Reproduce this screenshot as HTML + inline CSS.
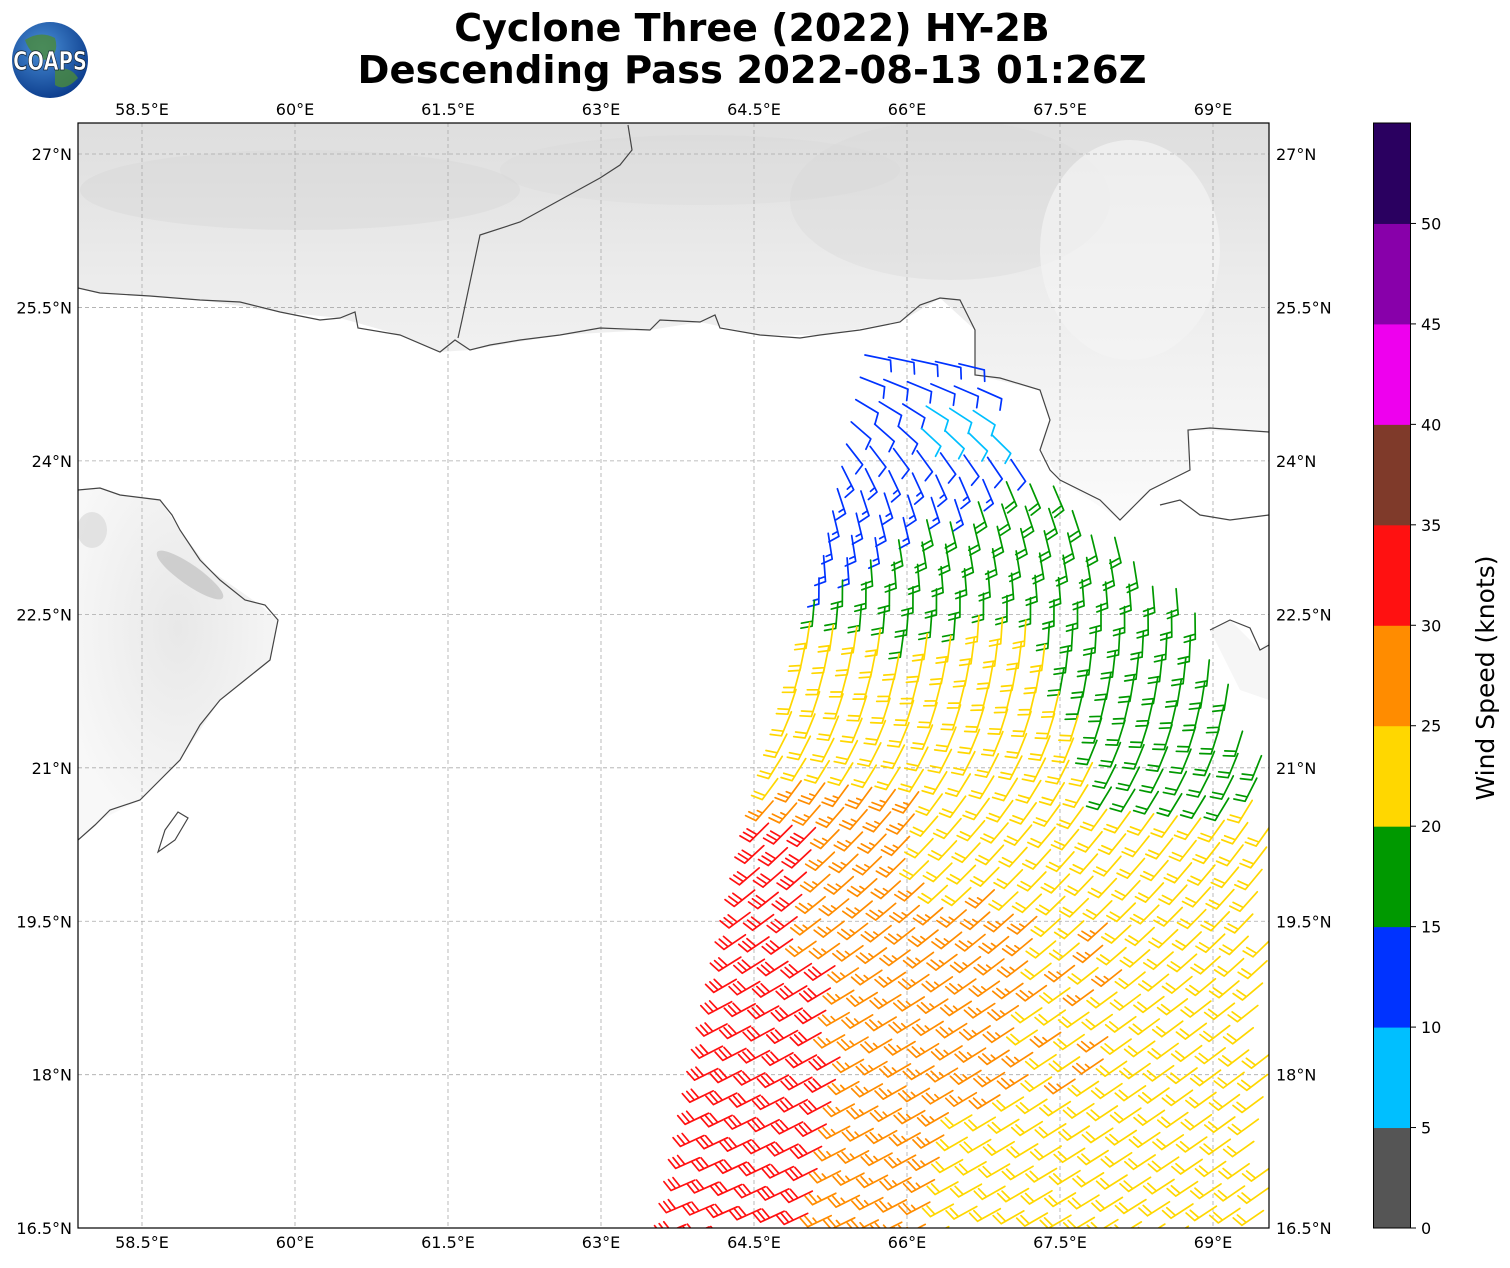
<!DOCTYPE html>
<html><head><meta charset="utf-8">
<style>
html,body{margin:0;padding:0;background:#fff;}
body{width:1510px;height:1264px;overflow:hidden;font-family:"DejaVu Sans","Liberation Sans",sans-serif;}
svg text{font-family:"DejaVu Sans","Liberation Sans",sans-serif;}
</style></head><body>
<svg id="s" width="1510" height="1264" viewBox="0 0 1510 1264" xmlns="http://www.w3.org/2000/svg">
<defs>
<linearGradient id="topg" x1="0" y1="0" x2="0" y2="1">
<stop offset="0" stop-color="#dedede"/><stop offset="0.4" stop-color="#ececec"/><stop offset="1" stop-color="#fbfbfb"/>
</linearGradient>
<radialGradient id="om" cx="0.5" cy="0.4" r="0.6">
<stop offset="0" stop-color="#e8e8e8"/><stop offset="1" stop-color="#f8f8f8"/>
</radialGradient>
<radialGradient id="glob" cx="0.4" cy="0.35" r="0.7">
<stop offset="0" stop-color="#4a90d8"/><stop offset="1" stop-color="#0a3a8a"/>
</radialGradient>
<clipPath id="mc"><rect x="78" y="123" width="1191" height="1105"/></clipPath>
</defs>
<g clip-path="url(#mc)">
<rect x="78" y="123" width="1191" height="1105" fill="#fff"/>
<path d="M78,123 H1269 V432 L1190,430 L1190,470 L1150,490 L1120,520 L1060,480 L1040,450 L1050,420 L1040,390 L975,375 L975,330 L940,298 L900,322 L820,335 L760,335 L700,322 L650,330 L560,335 L470,350 L440,352 L400,335 L340,318 L280,312 L200,300 L100,293 L78,288 Z" fill="url(#topg)"/>
<ellipse cx="950" cy="200" rx="160" ry="80" fill="#d8d8d8" opacity="0.35"/>
<ellipse cx="300" cy="190" rx="220" ry="40" fill="#d0d0d0" opacity="0.3"/>
<ellipse cx="700" cy="170" rx="200" ry="35" fill="#d6d6d6" opacity="0.3"/>
<ellipse cx="1130" cy="250" rx="90" ry="110" fill="#f4f4f4" opacity="0.7"/>
<path d="M78,490 L100,488 L120,495 L160,500 L180,530 L210,570 L260,605 L278,620 L270,660 L220,700 L180,760 L140,800 L100,820 L78,840 Z" fill="url(#om)"/>
<ellipse cx="190" cy="575" rx="40" ry="10" transform="rotate(35 190 575)" fill="#b0b0b0" opacity="0.5"/>
<ellipse cx="92" cy="530" rx="15" ry="18" fill="#d6d6d6" opacity="0.6"/>
<path d="M1210,630 L1230,620 L1260,650 L1269,640 L1269,700 L1240,690 Z" fill="#f6f6f6"/>
<g id="grid" stroke="#aaa" stroke-width="0.8" stroke-dasharray="4,3" fill="none"></g>
<g stroke="#444" stroke-width="1.2" fill="none">
<path d="M78,288 L100,293 L150,296 L200,300 L240,302 L280,312 L320,320 L340,318 L355,312 L358,328 L400,335 L440,352 L455,340 L470,350 L490,345 L520,340 L560,335 L600,328 L650,330 L660,320 L700,322 L715,315 L720,328 L760,335 L800,338 L820,335 L860,330 L900,322 L920,305 L940,298 L960,300 L975,330 L975,375 L1000,378 L1040,390 L1050,420 L1040,450 L1050,470 L1060,480 L1100,500 L1120,520 L1135,505 L1150,490 L1170,480 L1190,470 L1188,430 L1210,428 L1269,432"/>
<path d="M458,338 L462,320 L480,235 L520,222 L560,200 L600,178 L620,165 L632,150 L628,125"/>
<path d="M78,490 L100,488 L120,495 L160,500 L172,515 L180,530 L200,560 L220,580 L245,600 L265,605 L278,620 L270,660 L245,680 L220,700 L200,725 L180,760 L160,780 L140,800 L110,810 L95,825 L78,840"/>
<path d="M158,852 L165,830 L178,812 L188,818 L175,840 Z"/>
<path d="M1210,630 L1230,620 L1250,628 L1260,650 L1269,645"/>
<path d="M1160,505 L1180,500 L1200,515 L1230,520 L1269,515"/>
</g>
<g id="barbs" stroke-width="1.7" fill="none" stroke-linecap="round"></g>
</g>
<rect x="78" y="123" width="1191" height="1105" fill="none" stroke="#000" stroke-width="1.2"/>
<g id="ticks" font-size="16" fill="#000"></g>
<g id="cb"></g>
<rect x="1373.5" y="123" width="37" height="1105" fill="none" stroke="#000" stroke-width="1"/>
<text x="1494" y="678" font-size="25" text-anchor="middle" transform="rotate(-90 1494 678)">Wind Speed (knots)</text>
<text x="752" y="41" font-size="38" font-weight="bold" text-anchor="middle">Cyclone Three (2022) HY-2B</text>
<text x="752" y="83" font-size="38.5" font-weight="bold" text-anchor="middle">Descending Pass 2022-08-13 01:26Z</text>
<circle cx="50" cy="60" r="38" fill="url(#glob)"/>
<path d="M25,40 Q40,30 55,38 Q60,55 45,60 Q30,55 25,40Z" fill="#4a8a3a" opacity="0.8"/>
<path d="M55,70 Q70,65 78,78 Q65,92 55,85Z" fill="#4a8a3a" opacity="0.8"/>
<text x="50" y="70" font-size="26" font-weight="bold" fill="#fff" stroke="#123" stroke-width="0.8" text-anchor="middle" textLength="74" lengthAdjust="spacingAndGlyphs">COAPS</text>
</svg>
<script>
(function(){
var NS="http://www.w3.org/2000/svg";
function el(p,t,a,txt){var e=document.createElementNS(NS,t);for(var k in a)e.setAttribute(k,a[k]);if(txt!==undefined)e.textContent=txt;p.appendChild(e);return e;}
var X=function(lon){return 142+(lon-58.5)*102;};
var Y=function(lat){return 154+(27-lat)*102.3;};
var g=document.getElementById('grid'),tk=document.getElementById('ticks');
[58.5,60,61.5,63,64.5,66,67.5,69].forEach(function(l){var x=X(l);el(g,'line',{x1:x,y1:123,x2:x,y2:1228});
 var lab=(l%1?l.toFixed(1):l.toFixed(0))+'°E';
 el(tk,'text',{x:x,y:115,'text-anchor':'middle'},lab);
 el(tk,'text',{x:x,y:1248,'text-anchor':'middle'},lab);});
[16.5,18,19.5,21,22.5,24,25.5,27].forEach(function(l){var y=Y(l);el(g,'line',{x1:78,y1:y,x2:1269,y2:y});
 var lab=(l%1?l.toFixed(1):l.toFixed(0))+'°N';
 el(tk,'text',{x:72,y:y+6,'text-anchor':'end'},lab);
 el(tk,'text',{x:1276,y:y+6,'text-anchor':'start'},lab);});
var cols=['#555555','#00bfff','#0033ff','#009900','#ffd700','#ff8c00','#ff1111','#7f3a2a','#ee00ee','#8800aa','#2a0060'];
var cb=document.getElementById('cb');
var top=123,bot=1228,h=(bot-top)/11;
for(var i=0;i<11;i++){el(cb,'rect',{x:1373.5,y:bot-(i+1)*h,width:37,height:h+0.5,fill:cols[i]});}
for(var v=0;v<=50;v+=5){var y=bot-v/5*h;el(cb,'line',{x1:1410,y1:y,x2:1416,y2:y,stroke:'#000','stroke-width':1});
 el(cb,'text',{x:1421,y:y+6,'font-size':16},String(v));}
var B=document.getElementById('barbs');
function leftEdge(y){return 865-(y-355)*0.21;}
var re=[[340,965],[430,992],[465,1025],[520,1105],[600,1190],[720,1245],[760,1275],[2000,1275]];
function rightEdge(y){for(var i=1;i<re.length;i++){if(y<=re[i][0]){var a=re[i-1],b=re[i];return a[1]+(b[1]-a[1])*(y-a[0])/(b[0]-a[0]);}}return 1275;}
var ang=[[340,5],[420,40],[480,70],[600,95],[700,110],[820,135],[1000,152],[1240,158]];
function angle(x,y){var a=5;for(var i=1;i<ang.length;i++){if(y<=ang[i][0]){var p=ang[i-1],q=ang[i];a=p[1]+(q[1]-p[1])*(y-p[0])/(q[0]-p[0]);break;}}if(y>1240)a=158;
 a+= (x-leftEdge(y))*(-0.02);return a*Math.PI/180;}
function speed(x,y){var d=x-leftEdge(y);
 if(y<380) return (x>905&&y>370)?8:12;
 if(y<450&&x>905&&x<1000&&y>395) return 8;
 if(y<460) return 12;
 if(y<600&&x<1020-(y-460)*1.6) return 13;
 if(y<614) return 18;
 if(y<800&&x>1040+(y-614)*0.4) return 18;
 if(y<780) return (Math.abs(x-910)<8&&y<700)?18:22;
 var r=(y>820&&d<(y>1050?140:(y>950?110:70)));
 if(r) return 32;
 var ow= y<900?160:(y<1100?300:260);
 if(d<ow) return 27;
 if(y>880 && y<1100 && d<ow+90 && ((Math.floor(x/24)+Math.floor(y/22))%3==0)) return 27;
 return 22;}
function col(s){return cols[Math.min(10,Math.floor(s/5))];}
function barb(x,y,s,th){var L=26,dx=Math.cos(th),dy=Math.sin(th);
 var px=-dy,py=dx;
 var ex=x+dx*L,ey=y+dy*L,c=col(s);
 var d='M'+x.toFixed(1)+','+y.toFixed(1)+'L'+ex.toFixed(1)+','+ey.toFixed(1);
 var n=Math.round(s/5),full=Math.floor(n/2),half=n%2,pos=0,fl=11;
 for(var k=0;k<full;k++){var bx=ex-dx*pos,by=ey-dy*pos;
  d+='M'+bx.toFixed(1)+','+by.toFixed(1)+'l'+((px*fl+dx*3)).toFixed(1)+','+((py*fl+dy*3)).toFixed(1);pos+=5;}
 if(half){if(full==0)pos=4;var bx=ex-dx*pos,by=ey-dy*pos;
  d+='M'+bx.toFixed(1)+','+by.toFixed(1)+'l'+((px*fl*0.5+dx*1.5)).toFixed(1)+','+((py*fl*0.5+dy*1.5)).toFixed(1);}
 el(B,'path',{d:d,stroke:c});}
for(var i=0;i<40;i++){
 for(var j=0;j<30;j++){
  var x=865-i*4.6+j*23.5, y=355+i*22.3+j*2.2;
  if(y>1235) continue;
  var le=leftEdge(y);
  if(x<le-2||x>rightEdge(y)) continue;
  barb(x,y,speed(x,y),angle(x,y));
 }}
})();
</script>
</body></html>
